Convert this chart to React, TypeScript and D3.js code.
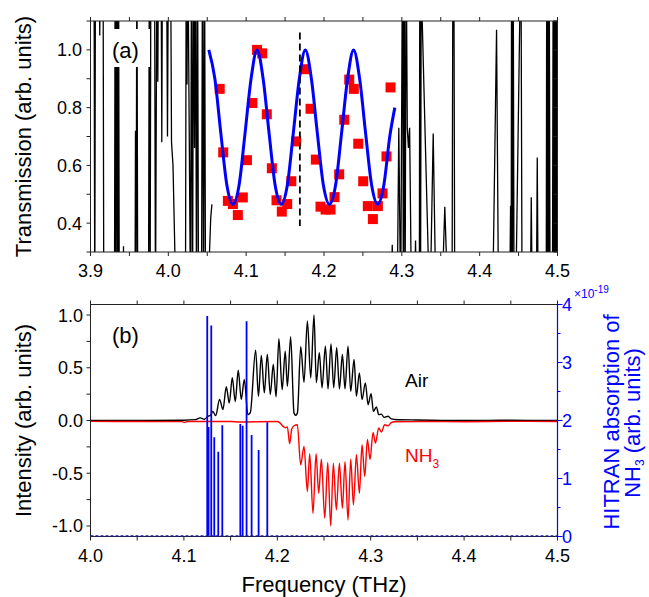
import React from 'react';
import * as d3 from 'd3';

// ---- axes ----
const topXTicks = [3.9, 4.0, 4.1, 4.2, 4.3, 4.4, 4.5];
const topYTicks = [0.4, 0.6, 0.8, 1.0];
const botXTicks = [4.0, 4.1, 4.2, 4.3, 4.4, 4.5];
const botYTicks = [-1.0, -0.5, 0.0, 0.5, 1.0];
const botYLabels = ['-1.0', '-0.5', '0.0', '0.5', '1.0'];
const hitranTicks = [0, 1, 2, 3, 4];

// ---- panel (a): measured transmission (red squares) ----
const sqFreq = [4.066, 4.0705, 4.0765, 4.083, 4.0893, 4.0957, 4.101, 4.108, 4.114, 4.1206, 4.1265, 4.133,
  4.139, 4.1458, 4.1527, 4.158, 4.1643, 4.1754, 4.1827, 4.1895, 4.1955, 4.202, 4.2084, 4.2135, 4.2195,
  4.226, 4.2324, 4.2383, 4.244, 4.2504, 4.2563, 4.2628, 4.2692, 4.2752, 4.2803, 4.2855];
const sqTrans = [0.865, 0.645, 0.477, 0.466, 0.428, 0.489, 0.618, 0.816, 1.0, 0.988, 0.777, 0.59,
  0.479, 0.44, 0.466, 0.545, 0.683, 0.933, 0.796, 0.62, 0.457, 0.447, 0.447, 0.49, 0.569,
  0.758, 0.897, 0.865, 0.675, 0.545, 0.459, 0.414, 0.459, 0.503, 0.631, 0.87];

// fitted curve (blue)
const fitFreq = [4.052, 4.0598, 4.0675, 4.0753, 4.083, 4.0908, 4.0985, 4.1063, 4.114, 4.1218, 4.1295, 4.1373,
  4.145, 4.1528, 4.1605, 4.1683, 4.176, 4.1838, 4.1915, 4.1993, 4.207, 4.2148, 4.2225, 4.2303, 4.238,
  4.2458, 4.2535, 4.2613, 4.269, 4.2768, 4.2845, 4.291];
const fitTrans = [1.0, 0.9, 0.71, 0.53, 0.465, 0.53, 0.71, 0.9, 1.0, 0.9, 0.71, 0.53,
  0.465, 0.53, 0.71, 0.9, 1.0, 0.9, 0.71, 0.53, 0.465, 0.53, 0.71, 0.9, 1.0,
  0.9, 0.71, 0.53, 0.465, 0.53, 0.7, 0.8];

// reference trace outside the band (black, clipped)
const refLeft: [number, number][] = [
  [3.9, 1.4], [3.9045, 1.4], [3.9055, 0.1], [3.9064, 1.4], [3.9109, 1.4], [3.9119, 1.05], [3.9128, 1.4],
  [3.9161, 1.4], [3.9171, 0.1], [3.9308, 0.1], [3.9317, 1.4], [3.9328, 0.1], [3.9338, 1.4], [3.935, 0.1],
  [3.936, 1.4], [3.937, 0.1], [3.9418, 0.1], [3.9424, 0.32], [3.943, 0.1], [3.9572, 0.1], [3.9578, 0.72],
  [3.9586, 0.2], [3.9596, 1.4], [3.9607, 0.1], [3.9745, 0.1], [3.9756, 1.4], [3.9766, 0.1], [3.9776, 1.4],
  [3.9822, 1.4], [3.9835, 0.1], [3.9854, 1.4], [3.9865, 0.89], [3.9874, 1.4], [3.9906, 1.4], [3.9916, 0.68],
  [3.9925, 1.4], [3.9976, 1.4], [3.9989, 0.7], [4.0002, 1.4], [4.0028, 1.4], [4.0041, 0.68], [4.006, 0.6],
  [4.0092, 0.2], [4.0105, 0.1], [4.022, 0.1], [4.023, 1.4], [4.024, 0.88], [4.025, 1.4], [4.0285, 0.1],
  [4.0298, 1.4], [4.0311, 0.1], [4.0324, 1.4], [4.0337, 0.66], [4.0349, 1.4], [4.0362, 0.1], [4.0375, 1.4],
  [4.0388, 0.1], [4.0426, 0.1], [4.0439, 1.4], [4.0452, 0.1], [4.0465, 1.4], [4.0478, 0.1], [4.0504, 0.1],
  [4.0529, 0.3], [4.0545, 0.42], [4.056, 0.465],
];
const refRight: [number, number][] = [
  [4.2862, 0.1], [4.2877, 0.325], [4.289, 0.1], [4.294, 0.1], [4.2961, 0.73], [4.2985, 0.1], [4.3009, 1.4],
  [4.302, 0.1], [4.303, 1.4], [4.3042, 0.1], [4.3055, 1.4], [4.307, 0.73], [4.3085, 0.66], [4.31, 0.73],
  [4.3125, 0.1], [4.316, 0.1], [4.3176, 0.34], [4.319, 0.1], [4.3225, 0.1], [4.3231, 1.4], [4.324, 0.1],
  [4.325, 1.4], [4.3262, 1.1], [4.334, 0.28], [4.3369, 0.2], [4.3403, 0.71], [4.3433, 0.2], [4.3523, 0.2],
  [4.3552, 0.457], [4.3583, 0.2], [4.3645, 0.1], [4.3662, 2.0], [4.368, 0.1], [4.4166, 0.1], [4.4217, 1.07],
  [4.4243, 0.1], [4.4385, 0.1], [4.4397, 0.46], [4.4405, 0.2], [4.441, 1.4], [4.442, 0.1], [4.443, 1.4],
  [4.4442, 0.1], [4.4462, 0.1], [4.452, 1.2], [4.453, 1.4], [4.4545, 0.1], [4.465, 0.1], [4.4663, 0.49],
  [4.4676, 0.1], [4.4728, 0.1], [4.474, 0.627], [4.4752, 0.1], [4.4855, 0.1], [4.4862, 1.4], [4.487, 0.1],
  [4.4878, 1.4], [4.4886, 0.1], [4.4893, 1.4], [4.4905, 0.1], [4.4935, 0.1], [4.4945, 1.4], [4.4955, 0.1],
  [4.4965, 1.4], [4.4975, 0.1], [4.4985, 1.4], [4.4995, 0.1], [4.5005, 1.4],
];
const markerFreq = 4.169;
const markerRange = [0.39, 1.06];

// ---- panel (b): spectra ----
const airSpec: [number, number][] = [
  [4.0, 0.0], [4.05, 0.0], [4.1, 0.003], [4.112, 0.008], [4.1175, 0.025], [4.122, 0.012], [4.1257, 0.04],
  [4.1285, 0.05], [4.131, 0.087], [4.134, 0.046], [4.1382, 0.2], [4.1418, 0.104], [4.1454, 0.32],
  [4.1486, 0.167], [4.1518, 0.405], [4.155, 0.18], [4.1582, 0.477], [4.1614, 0.2], [4.1647, 0.39],
  [4.1685, 0.055], [4.1711, 0.075], [4.1768, 0.667], [4.1798, 0.23], [4.1829, 0.617], [4.1861, 0.262],
  [4.1893, 0.626], [4.1925, 0.246], [4.1957, 0.531], [4.1987, 0.224], [4.2017, 0.775], [4.2052, 0.293],
  [4.2085, 0.658], [4.2108, 0.325], [4.2143, 0.794], [4.2179, 0.07], [4.2197, 0.05], [4.2215, 0.07],
  [4.2251, 0.7], [4.2286, 0.363], [4.2322, 0.943], [4.2358, 0.403], [4.2393, 1.0], [4.2418, 0.357],
  [4.245, 0.642], [4.2479, 0.31], [4.2515, 0.705], [4.2543, 0.3], [4.2575, 0.727], [4.2604, 0.31],
  [4.2636, 0.69], [4.2665, 0.3], [4.2697, 0.626], [4.2725, 0.3], [4.2757, 0.705], [4.2786, 0.277],
  [4.2822, 0.579], [4.2847, 0.23], [4.2879, 0.452], [4.2907, 0.198], [4.2943, 0.357], [4.2972, 0.15],
  [4.3004, 0.255], [4.3029, 0.087], [4.3061, 0.129], [4.3086, 0.056], [4.3114, 0.06], [4.3143, 0.03],
  [4.3186, 0.04], [4.322, 0.015], [4.3257, 0.01], [4.35, 0.005], [4.4, 0.0], [4.45, 0.002], [4.5, 0.0],
];
const nh3Spec: [number, number][] = [
  [4.0, -0.008], [4.05, -0.01], [4.098, -0.011], [4.101, -0.018], [4.104, -0.01], [4.15, -0.01],
  [4.16, -0.014], [4.2, -0.01], [4.2025, -0.02], [4.2068, -0.06], [4.209, -0.07], [4.2108, -0.06],
  [4.2132, -0.22], [4.2155, -0.08], [4.2179, -0.05], [4.2215, -0.04], [4.225, -0.42], [4.2286, -0.245],
  [4.2322, -0.673], [4.2347, -0.316], [4.2382, -0.88], [4.2415, -0.316], [4.2443, -0.69], [4.2472, -0.366],
  [4.2508, -0.927], [4.254, -0.398], [4.2572, -1.0], [4.26, -0.405], [4.2632, -0.848], [4.2665, -0.405],
  [4.2697, -0.832], [4.2725, -0.39], [4.2757, -0.943], [4.2786, -0.366], [4.2815, -0.8], [4.2847, -0.325],
  [4.2879, -0.69], [4.2907, -0.23], [4.2936, -0.53], [4.2965, -0.18], [4.2993, -0.37], [4.3025, -0.113],
  [4.305, -0.214], [4.3086, -0.071], [4.3114, -0.11], [4.315, -0.04], [4.3186, -0.05], [4.322, -0.02],
  [4.3257, -0.012], [4.36, -0.01], [4.4, -0.012], [4.45, -0.008], [4.5, -0.01],
];
// HITRAN NH3 lines (x1e-19)
const hitranFreq = [4.125, 4.1264, 4.1293, 4.1325, 4.1368, 4.1411, 4.1604, 4.1629, 4.1671, 4.1725, 4.18, 4.1893];
const hitranStrength = [3.8, 1.89, 3.64, 1.71, 1.46, 1.92, 1.94, 1.91, 3.71, 1.75, 1.49, 1.97];

const FONT = '"Liberation Sans", Arial, Helvetica, sans-serif';
const BLUE = '#0000ff';
const RED = '#ff0000';

const App = () => {
  const L = 90.5, R = 557.5;
  const aTop = 21, aBot = 252;
  const bTop = 304.5, bBot = 536.5;

  const xA = d3.scaleLinear().domain([3.9, 4.5]).range([L, R]);
  const yA = d3.scaleLinear().domain([0.3, 1.1]).range([aBot, aTop]);
  const xB = d3.scaleLinear().domain([4.0, 4.5]).range([L, R]);
  const yB = d3.scaleLinear().domain([-1.1, 1.1]).range([bBot, bTop]);
  const yH = d3.scaleLinear().domain([0, 4]).range([bBot, bTop]);

  const lineA = d3.line<[number, number]>().x(d => xA(d[0])).y(d => yA(d[1]));
  const fitLine = d3.line<[number, number]>().x(d => xA(d[0])).y(d => yA(d[1])).curve(d3.curveMonotoneX);
  const lineB = d3.line<[number, number]>().x(d => xB(d[0])).y(d => yB(d[1])).curve(d3.curveMonotoneX);

  const fitPts = fitFreq.map((f, i) => [f, fitTrans[i]] as [number, number]);

  const aMinorX = d3.range(3.9, 4.501, 0.05);
  const aMinorY = d3.range(0.3, 1.101, 0.1);
  const bMinorX = d3.range(4.0, 4.501, 0.05);
  const bMinorY = d3.range(-1.0, 1.001, 0.25);
  const hMinor = d3.range(0, 4.01, 0.5);

  const tickStyle = { stroke: '#222', strokeWidth: 1 };
  const sq = 10;

  return (
    <svg width={649} height={597} style={{ position: 'absolute', left: 0, top: 0, display: 'block' }}
      fontFamily={FONT}>
      <rect width={649} height={597} fill="#fff" />
      <defs>
        <clipPath id="clipA"><rect x={L} y={aTop} width={R - L} height={aBot - aTop} /></clipPath>
        <clipPath id="clipB"><rect x={L} y={bTop} width={R - L} height={bBot - bTop} /></clipPath>
      </defs>

      {/* ===== panel (a) ===== */}
      <g clipPath="url(#clipA)">
        <path d={lineA(refLeft) || ''} fill="none" stroke="#000" strokeWidth={1.3} />
        <path d={lineA(refRight) || ''} fill="none" stroke="#000" strokeWidth={1.3} />
      </g>
      <rect x={108} y={29} width={42} height={38} fill="#fff" />
      <text x={112} y={58} fontSize={22}>(a)</text>
      {sqFreq.map((f, i) => (
        <rect key={i} x={xA(f) - sq / 2} y={yA(sqTrans[i]) - sq / 2} width={sq} height={sq} fill={RED} />
      ))}
      <path d={fitLine(fitPts) || ''} fill="none" stroke={BLUE} strokeWidth={3} />
      <line x1={xA(markerFreq)} x2={xA(markerFreq)} y1={yA(markerRange[1])} y2={yA(markerRange[0])}
        stroke="#000" strokeWidth={1.8} strokeDasharray="7 4" />

      <rect x={L} y={aTop} width={R - L} height={aBot - aTop} fill="none" stroke="#222" strokeWidth={1} />
      {aMinorX.map((v, i) => (
        <g key={i}>
          <line x1={xA(v)} x2={xA(v)} y1={aBot} y2={aBot + 4} {...tickStyle} />
          <line x1={xA(v)} x2={xA(v)} y1={aTop} y2={aTop - 4} {...tickStyle} />
        </g>
      ))}
      {aMinorY.map((v, i) => (
        <g key={i}>
          <line x1={L} x2={L - 4} y1={yA(v)} y2={yA(v)} {...tickStyle} />
          <line x1={R} x2={R - 4} y1={yA(v)} y2={yA(v)} {...tickStyle} />
        </g>
      ))}
      {topXTicks.map(v => (
        <text key={v} x={xA(v)} y={277} fontSize={18} textAnchor="middle">{v.toFixed(1)}</text>
      ))}
      {topYTicks.map(v => (
        <text key={v} x={82} y={yA(v) + 6.5} fontSize={18} textAnchor="end">{v.toFixed(1)}</text>
      ))}
      <text transform={`translate(31,${(aTop + aBot) / 2}) rotate(-90)`} fontSize={22} textAnchor="middle">
        Transmission (arb. units)
      </text>

      {/* ===== panel (b) ===== */}
      <g clipPath="url(#clipB)">
        <path d={lineB(airSpec) || ''} fill="none" stroke="#000" strokeWidth={1.4} />
        <path d={lineB(nh3Spec) || ''} fill="none" stroke={RED} strokeWidth={1.4} />
        {hitranFreq.map((f, i) => (
          <line key={i} x1={xB(f)} x2={xB(f)} y1={yH(0)} y2={yH(hitranStrength[i])} stroke={BLUE} strokeWidth={1.8} />
        ))}
      </g>
      <rect x={L} y={bTop} width={R - L} height={bBot - bTop} fill="none" stroke="#222" strokeWidth={1} />
      <line x1={L} x2={R} y1={bBot - 0.5} y2={bBot - 0.5} stroke="#1a1a99" strokeWidth={1.6} strokeDasharray="3 2" />
      <line x1={R} x2={R} y1={bTop} y2={bBot} stroke={BLUE} strokeWidth={1.2} />
      {bMinorX.map((v, i) => (
        <g key={i}>
          <line x1={xB(v)} x2={xB(v)} y1={bBot} y2={bBot + 4} {...tickStyle} />
          <line x1={xB(v)} x2={xB(v)} y1={bTop} y2={bTop - 4} {...tickStyle} />
        </g>
      ))}
      {bMinorY.map((v, i) => (
        <line key={i} x1={L} x2={L - 4} y1={yB(v)} y2={yB(v)} {...tickStyle} />
      ))}
      {hMinor.map((v, i) => (
        <line key={i} x1={R} x2={R + (i % 2 === 0 ? 5 : 3)} y1={yH(v)} y2={yH(v)} stroke={BLUE} strokeWidth={1} />
      ))}
      {botXTicks.map(v => (
        <text key={v} x={xB(v)} y={562} fontSize={18} textAnchor="middle">{v.toFixed(1)}</text>
      ))}
      {botYTicks.map((v, i) => (
        <text key={v} x={83} y={yB(v) + 6.5} fontSize={18} textAnchor="end">{botYLabels[i]}</text>
      ))}
      {hitranTicks.map(v => (
        <text key={v} x={562} y={yH(v) + 6.5} fontSize={18} fill={BLUE}>{v}</text>
      ))}
      <text x={574} y={298} fontSize={12} fill={BLUE}>
        ×10<tspan dy={-5} fontSize={10}>-19</tspan>
      </text>

      <text x={112} y={343} fontSize={22}>(b)</text>
      <text x={405} y={387} fontSize={19}>Air</text>
      <text x={405} y={462} fontSize={19} fill={RED}>
        NH<tspan dy={6} fontSize={12}>3</tspan>
      </text>

      <text transform={`translate(31,${(bTop + bBot) / 2}) rotate(-90)`} fontSize={22} textAnchor="middle">
        Intensity (arb. units)
      </text>
      <text x={324} y={592} fontSize={22} textAnchor="middle">Frequency (THz)</text>
      <text transform={`translate(619,422) rotate(-90)`} fontSize={22} textAnchor="middle" fill={BLUE}>
        HITRAN absorption of
      </text>
      <text transform={`translate(640,423) rotate(-90)`} fontSize={22} textAnchor="middle" fill={BLUE}>
        NH<tspan dy={4} fontSize={12}>3</tspan><tspan dy={-4}> (arb. units)</tspan>
      </text>
    </svg>
  );
};

export default App;
